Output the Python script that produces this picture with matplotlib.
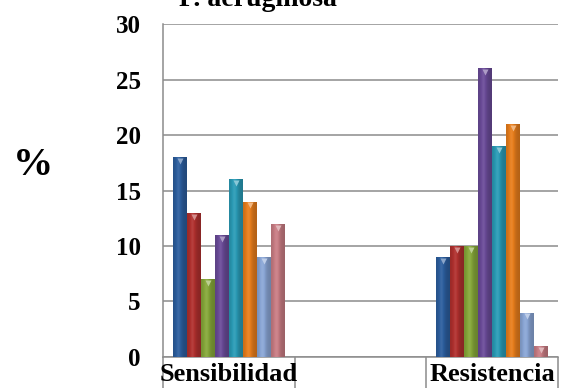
import numpy as np
import matplotlib
matplotlib.use('Agg')
import matplotlib.pyplot as plt
from matplotlib.colors import to_rgb

categories = ['Sensibilidad', '', 'Resistencia']
sensibilidad = [18, 13, 7, 11, 16, 14, 9, 12]
resistencia = [9, 10, 10, 26, 19, 21, 4, 1]
colors = ['#2c5e9e', '#b0302e', '#86a83a', '#6a4b98', '#2a9bb6', '#e87e1c', '#8aa6d6', '#c97d84']
yticks = [0, 5, 10, 15, 20, 25, 30]

plt.rcParams['font.family'] = ['Liberation Serif', 'DejaVu Serif']
plt.rcParams['font.weight'] = 'bold'

fig = plt.figure(figsize=(5.65, 3.88), dpi=100)
ax = fig.add_axes([0.2885, 0.080, 0.699, 0.858])

grid_col = '#8c8c8c'
for y in yticks:
    ax.axhline(y, color=grid_col, lw=1.1, zorder=0)

# soft cylinder shading across the bar width
prof = np.linspace(0, 1, 40)
shade = 0.86 + 0.22 * np.exp(-((prof - 0.4) / 0.25) ** 2) - 0.08 * prof

nbar = len(colors)
width = 0.106
groups = {0: sensibilidad, 2: resistencia}
for gx, vals in groups.items():
    offsets = (np.arange(nbar) - (nbar - 1) / 2) * width
    for off, v, c in zip(offsets, vals, colors):
        base = np.array(to_rgb(c))
        x0, x1 = gx + off - width / 2, gx + off + width / 2
        bar = ax.bar(gx + off, v, width, color=c, lw=0, zorder=2)[0]
        s = shade[:, None]
        img = np.where(s > 1, base + (1 - base) * (s - 1) * 1.5, base * s)
        img = np.clip(img, 0, 1)[None, :, :]
        im = ax.imshow(img, extent=(x0, x1, 0, v), aspect='auto', zorder=3,
                       interpolation='bilinear')
        im.set_clip_path(bar)
        light = base + (1 - base) * 0.45
        ax.plot(gx + off, v - 0.35, marker='v', ms=5, color=light,
                mec='none', zorder=4)

ax.set_xlim(-0.5, 2.5)
ax.set_ylim(0, 30)
ax.set_yticks(yticks)
ax.tick_params(axis='y', length=0, pad=16, labelsize=18)

ax.set_xticks([-0.5, 0.5, 1.5, 2.5])
ax.set_xticklabels([])
ax.set_xticks([0, 1, 2], minor=True)
ax.set_xticklabels(categories, minor=True, fontsize=19)
ax.tick_params(axis='x', which='major', length=23, width=1.1, color=grid_col,
               direction='out')
ax.tick_params(axis='x', which='minor', length=0, pad=4)

for s in ['top', 'right']:
    ax.spines[s].set_visible(False)
for s in ['left', 'bottom']:
    ax.spines[s].set_color(grid_col)
    ax.spines[s].set_linewidth(1.1)

fig.text(33 / 565, 1 - 165 / 388, '%', fontsize=29, ha='center', va='center')
fig.text(258 / 565, 1 - 6 / 388, 'P. aeruginosa', fontsize=20,
         ha='center', va='baseline')

fig.savefig('out.png', dpi=100)
